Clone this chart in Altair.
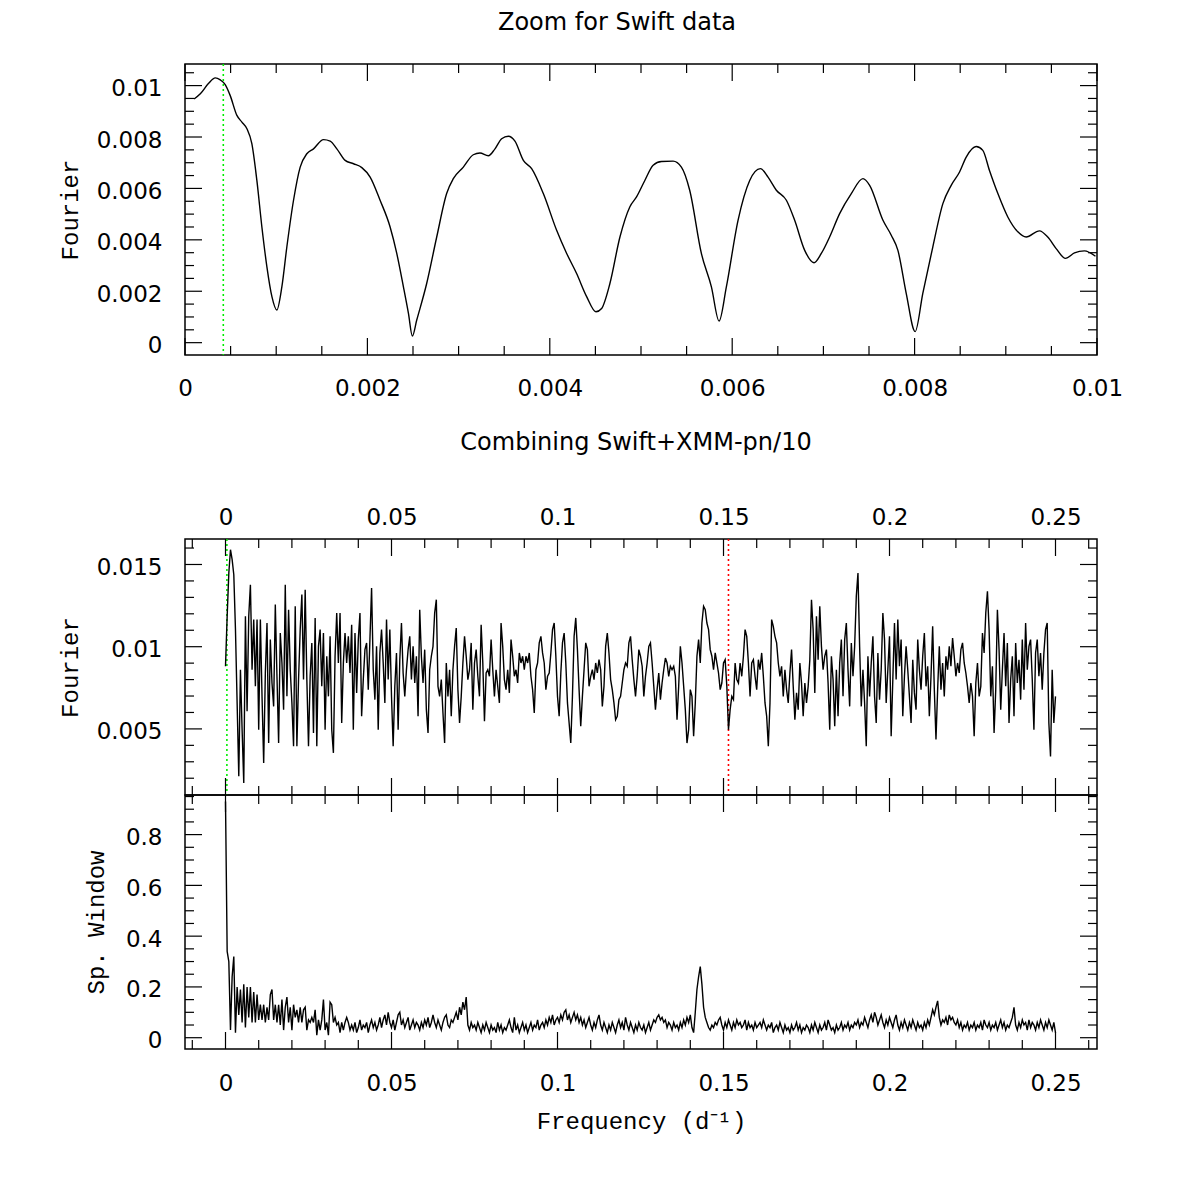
import altair as alt
import pandas as pd

# ---------------- data ----------------
# Top panel: zoom on the Swift periodogram (frequency, amplitude)
top_freq = [0.0001, 0.000168, 0.000259, 0.000332, 0.000387, 0.000441, 0.000496, 0.000569, 0.000624, 0.000679,
            0.000733, 0.000788, 0.000843, 0.000898, 0.000953, 0.001007, 0.001062, 0.001117, 0.00119, 0.001263,
            0.001336, 0.001409, 0.001519, 0.001592, 0.001665, 0.001756, 0.001848, 0.001939, 0.00203, 0.002139,
            0.002249, 0.002322, 0.002395, 0.00245, 0.002493, 0.002541, 0.00265, 0.00276, 0.002869, 0.002942,
            0.003052, 0.003161, 0.003234, 0.003326, 0.003399, 0.003472, 0.003545, 0.003618, 0.00371, 0.003801,
            0.003929, 0.004075, 0.004185, 0.004294, 0.004404, 0.004506, 0.004568, 0.004659, 0.004769,
            0.004877, 0.004951, 0.005042, 0.005133, 0.005224, 0.005352, 0.005443, 0.005534, 0.005662, 0.005772,
            0.005856, 0.005936, 0.006064, 0.006192, 0.006309, 0.006393, 0.006484, 0.006594, 0.006685, 0.006795,
            0.006897, 0.006977, 0.007068, 0.007178, 0.007306, 0.007434, 0.007507, 0.007653, 0.007744, 0.007817,
            0.007908, 0.008006, 0.00809, 0.0082, 0.00831, 0.008401, 0.008493, 0.008566, 0.008675, 0.008748,
            0.008821, 0.008913, 0.009022, 0.009132, 0.009223, 0.009369, 0.00946, 0.009552, 0.009654, 0.009753,
            0.009862, 0.009983]
top_power = [0.00948, 0.00968, 0.01009, 0.0103, 0.01022, 0.01004, 0.00961, 0.00884, 0.00858, 0.00832,
             0.00774, 0.00631, 0.0045, 0.00295, 0.00179, 0.00127, 0.00217, 0.00373, 0.00554, 0.00683,
             0.00735, 0.00754, 0.0079, 0.00784, 0.00754, 0.00709, 0.00696, 0.00681, 0.00644, 0.00554,
             0.0045, 0.00347, 0.00217, 0.00114, 0.00026, 0.00088, 0.0023, 0.00411, 0.0058, 0.00638,
             0.00683, 0.00731, 0.00738, 0.00727, 0.00754, 0.00793, 0.00803, 0.00784, 0.00709, 0.00677,
             0.0058, 0.00437, 0.00347, 0.00269, 0.00179, 0.0012, 0.00133, 0.0023, 0.00411,
             0.00528, 0.00567, 0.00631, 0.0069, 0.00705, 0.00706, 0.00683, 0.00593, 0.00347, 0.00217,
             0.00084, 0.00217, 0.00476, 0.00631, 0.00677, 0.00644, 0.00593, 0.00554, 0.00476, 0.00359,
             0.00311, 0.00347, 0.00411, 0.00502, 0.0058, 0.00638, 0.00612, 0.00476, 0.00418, 0.00359,
             0.00192, 0.00043, 0.00192, 0.00373, 0.00541, 0.00612, 0.00664, 0.00722, 0.00763, 0.00748,
             0.0067, 0.0058, 0.00489, 0.00431, 0.00411, 0.00435, 0.00411, 0.00366, 0.00328, 0.00349,
             0.00357, 0.00336]

# Middle / bottom panels: common frequency grid (d^-1)
freq = [0.0, 0.0005, 0.001, 0.0015, 0.002, 0.0025, 0.003, 0.0035, 0.004, 0.0045,
        0.005, 0.0055, 0.006, 0.0065, 0.007, 0.0075, 0.008, 0.0085, 0.009, 0.0095,
        0.01, 0.0105, 0.011, 0.0115, 0.012, 0.0125, 0.013, 0.0135, 0.014, 0.0145,
        0.015, 0.0155, 0.016, 0.0165, 0.017, 0.0175, 0.018, 0.0185, 0.019, 0.0195,
        0.02, 0.0205, 0.021, 0.0215, 0.022, 0.0225, 0.023, 0.0235, 0.024, 0.0245,
        0.025, 0.0255, 0.026, 0.0265, 0.027, 0.0275, 0.028, 0.0285, 0.029, 0.0295,
        0.03, 0.0305, 0.031, 0.0315, 0.032, 0.0325, 0.033, 0.0335, 0.034, 0.0345,
        0.035, 0.0355, 0.036, 0.0365, 0.037, 0.0375, 0.038, 0.0385, 0.039, 0.0395,
        0.04, 0.0405, 0.041, 0.0415, 0.042, 0.0425, 0.043, 0.0435, 0.044, 0.0445,
        0.045, 0.0455, 0.046, 0.0465, 0.047, 0.0475, 0.048, 0.0485, 0.049, 0.0495,
        0.05, 0.0505, 0.051, 0.0515, 0.052, 0.0525, 0.053, 0.0535, 0.054, 0.0545,
        0.055, 0.0555, 0.056, 0.0565, 0.057, 0.0575, 0.058, 0.0585, 0.059, 0.0595,
        0.06, 0.0605, 0.061, 0.0615, 0.062, 0.0625, 0.063, 0.0635, 0.064, 0.0645,
        0.065, 0.0655, 0.066, 0.0665, 0.067, 0.0675, 0.068, 0.0685, 0.069, 0.0695,
        0.07, 0.0705, 0.071, 0.0715, 0.072, 0.0725, 0.073, 0.0735, 0.074, 0.0745,
        0.075, 0.0755, 0.076, 0.0765, 0.077, 0.0775, 0.078, 0.0785, 0.079, 0.0795,
        0.08, 0.0805, 0.081, 0.0815, 0.082, 0.0825, 0.083, 0.0835, 0.084, 0.0845,
        0.085, 0.0855, 0.086, 0.0865, 0.087, 0.0875, 0.088, 0.0885, 0.089, 0.0895,
        0.09, 0.0905, 0.091, 0.0915, 0.092, 0.0925, 0.093, 0.0935, 0.094, 0.0945,
        0.095, 0.0955, 0.096, 0.0965, 0.097, 0.0975, 0.098, 0.0985, 0.099, 0.0995,
        0.1, 0.1005, 0.101, 0.1015, 0.102, 0.1025, 0.103, 0.1035, 0.104, 0.1045,
        0.105, 0.1055, 0.106, 0.1065, 0.107, 0.1075, 0.108, 0.1085, 0.109, 0.1095,
        0.11, 0.1105, 0.111, 0.1115, 0.112, 0.1125, 0.113, 0.1135, 0.114, 0.1145,
        0.115, 0.1155, 0.116, 0.1165, 0.117, 0.1175, 0.118, 0.1185, 0.119, 0.1195,
        0.12, 0.1205, 0.121, 0.1215, 0.122, 0.1225, 0.123, 0.1235, 0.124, 0.1245,
        0.125, 0.1255, 0.126, 0.1265, 0.127, 0.1275, 0.128, 0.1285, 0.129, 0.1295,
        0.13, 0.1305, 0.131, 0.1315, 0.132, 0.1325, 0.133, 0.1335, 0.134, 0.1345,
        0.135, 0.1355, 0.136, 0.1365, 0.137, 0.1375, 0.138, 0.1385, 0.139, 0.1395,
        0.14, 0.1405, 0.141, 0.1415, 0.142, 0.1425, 0.143, 0.1435, 0.144, 0.1445,
        0.145, 0.1455, 0.146, 0.1465, 0.147, 0.1475, 0.148, 0.1485, 0.149, 0.1495,
        0.15, 0.1505, 0.151, 0.1515, 0.152, 0.1525, 0.153, 0.1535, 0.154, 0.1545,
        0.155, 0.1555, 0.156, 0.1565, 0.157, 0.1575, 0.158, 0.1585, 0.159, 0.1595,
        0.16, 0.1605, 0.161, 0.1615, 0.162, 0.1625, 0.163, 0.1635, 0.164, 0.1645,
        0.165, 0.1655, 0.166, 0.1665, 0.167, 0.1675, 0.168, 0.1685, 0.169, 0.1695,
        0.17, 0.1705, 0.171, 0.1715, 0.172, 0.1725, 0.173, 0.1735, 0.174, 0.1745,
        0.175, 0.1755, 0.176, 0.1765, 0.177, 0.1775, 0.178, 0.1785, 0.179, 0.1795,
        0.18, 0.1805, 0.181, 0.1815, 0.182, 0.1825, 0.183, 0.1835, 0.184, 0.1845,
        0.185, 0.1855, 0.186, 0.1865, 0.187, 0.1875, 0.188, 0.1885, 0.189, 0.1895,
        0.19, 0.1905, 0.191, 0.1915, 0.192, 0.1925, 0.193, 0.1935, 0.194, 0.1945,
        0.195, 0.1955, 0.196, 0.1965, 0.197, 0.1975, 0.198, 0.1985, 0.199, 0.1995,
        0.2, 0.2005, 0.201, 0.2015, 0.202, 0.2025, 0.203, 0.2035, 0.204, 0.2045,
        0.205, 0.2055, 0.206, 0.2065, 0.207, 0.2075, 0.208, 0.2085, 0.209, 0.2095,
        0.21, 0.2105, 0.211, 0.2115, 0.212, 0.2125, 0.213, 0.2135, 0.214, 0.2145,
        0.215, 0.2155, 0.216, 0.2165, 0.217, 0.2175, 0.218, 0.2185, 0.219, 0.2195,
        0.22, 0.2205, 0.221, 0.2215, 0.222, 0.2225, 0.223, 0.2235, 0.224, 0.2245,
        0.225, 0.2255, 0.226, 0.2265, 0.227, 0.2275, 0.228, 0.2285, 0.229, 0.2295,
        0.23, 0.2305, 0.231, 0.2315, 0.232, 0.2325, 0.233, 0.2335, 0.234, 0.2345,
        0.235, 0.2355, 0.236, 0.2365, 0.237, 0.2375, 0.238, 0.2385, 0.239, 0.2395,
        0.24, 0.2405, 0.241, 0.2415, 0.242, 0.2425, 0.243, 0.2435, 0.244, 0.2445,
        0.245, 0.2455, 0.246, 0.2465, 0.247, 0.2475, 0.248, 0.2485, 0.249, 0.2495,
        0.25]

# Fourier amplitude, Swift + XMM-pn/10
fourier = [0.00881, 0.01185, 0.01448, 0.0159, 0.0153, 0.01438, 0.01104, 0.00658, 0.00212, 0.0086,
           0.00495, 0.00171, 0.01185, 0.00607, 0.01185, 0.01377, 0.0086, 0.01165, 0.00759, 0.01165,
           0.00495, 0.01165, 0.00698, 0.00293, 0.0084, 0.01144, 0.00414, 0.01043, 0.00779, 0.00637,
           0.01256, 0.0082, 0.00414, 0.01083, 0.00901, 0.00617, 0.01377, 0.00698, 0.01225, 0.0086,
           0.00658, 0.00394, 0.01246, 0.00394, 0.008, 0.01104, 0.01317, 0.008, 0.01347, 0.008,
           0.00394, 0.0082, 0.01023, 0.00475, 0.01175, 0.00394, 0.01002, 0.01104, 0.00759, 0.01083,
           0.00495, 0.00942, 0.00698, 0.01063, 0.00495, 0.00354, 0.00942, 0.01205, 0.00901, 0.01205,
           0.00536, 0.00901, 0.01083, 0.00901, 0.01063, 0.0084, 0.01134, 0.00495, 0.01083, 0.00719,
           0.01043, 0.01205, 0.00577, 0.008, 0.00982, 0.01023, 0.00739, 0.01043, 0.01357, 0.0086,
           0.00678, 0.01002, 0.00495, 0.00962, 0.01104, 0.00901, 0.00658, 0.01165, 0.008, 0.01104,
           0.00698, 0.00394, 0.00759, 0.00962, 0.00495, 0.00921, 0.01144, 0.0084, 0.00698, 0.0086,
           0.00982, 0.01063, 0.008, 0.01002, 0.00779, 0.00942, 0.00577, 0.01225, 0.00942, 0.00779,
           0.00982, 0.00617, 0.00475, 0.0086, 0.00942, 0.01002, 0.01205, 0.01286, 0.00759, 0.00698,
           0.008, 0.00597, 0.00414, 0.00901, 0.00698, 0.0086, 0.00577, 0.0086, 0.01002, 0.01114,
           0.00739, 0.00536, 0.00698, 0.00901, 0.01063, 0.00942, 0.008, 0.0086, 0.01023, 0.00617,
           0.00901, 0.00982, 0.0082, 0.00698, 0.01134, 0.00901, 0.00546, 0.0084, 0.0086, 0.0082,
           0.01043, 0.0086, 0.00698, 0.0086, 0.00759, 0.00658,
           0.01144, 0.01002, 0.008, 0.00739, 0.0086, 0.00719, 0.01043, 0.00942, 0.0082, 0.0086,
           0.00779, 0.00962, 0.00901, 0.00942, 0.0086, 0.00942, 0.00901, 0.00962, 0.0082, 0.00739,
           0.00597, 0.0086, 0.00901, 0.01023, 0.01063, 0.00962, 0.00901, 0.00739, 0.0082, 0.0084,
           0.00962, 0.01104, 0.01144, 0.00942, 0.00698, 0.00577, 0.0084, 0.01023, 0.01083, 0.00901,
           0.00658, 0.00536, 0.00414, 0.00698, 0.01063, 0.01175, 0.00982, 0.00739, 0.00516, 0.00698,
           0.0086, 0.01023, 0.00982, 0.00759, 0.0082, 0.0086, 0.008, 0.00901, 0.0084, 0.00921,
           0.0086, 0.00637, 0.00759, 0.01002, 0.01083, 0.00962, 0.008, 0.00739, 0.00658, 0.00556,
           0.00577, 0.00678, 0.00698, 0.00779, 0.0086, 0.00901, 0.00881, 0.01023, 0.01063, 0.00921,
           0.008, 0.00698, 0.0082, 0.00982, 0.00942, 0.00881, 0.00698, 0.0082, 0.00901, 0.01002,
           0.01023, 0.00901, 0.00759, 0.00617, 0.00739, 0.0084, 0.00678, 0.00779, 0.0086, 0.00931,
           0.00901, 0.0082, 0.00881, 0.0086, 0.00881, 0.0082, 0.00556, 0.00759, 0.01002, 0.00901,
           0.00759, 0.00617, 0.00414, 0.00495, 0.00739, 0.00698, 0.00455, 0.00658, 0.00942, 0.01043,
           0.00901, 0.01144, 0.01246, 0.01225, 0.01144, 0.01104, 0.00982, 0.00942, 0.0086, 0.00962,
           0.00901, 0.0084, 0.00739, 0.00779, 0.00901, 0.00921, 0.00759, 0.00495, 0.00617, 0.00698,
           0.00678, 0.00901, 0.008, 0.00779, 0.00901, 0.0082, 0.00942, 0.01104, 0.01063, 0.00901,
           0.00698, 0.00901, 0.00921, 0.0082, 0.00739, 0.00921, 0.0086, 0.00962, 0.0082, 0.00658,
           0.00577, 0.00394, 0.00658, 0.01165, 0.01124, 0.01063, 0.01023, 0.00901, 0.0082, 0.00881,
           0.00698, 0.0086, 0.00739, 0.00658, 0.0084, 0.00982, 0.00759, 0.00556, 0.00719, 0.00617,
           0.00901, 0.00779, 0.00577, 0.00779, 0.00658,
           0.00759, 0.00921, 0.01286, 0.01104, 0.00719, 0.01185, 0.00921, 0.01246, 0.01002, 0.0086,
           0.00942, 0.00982, 0.00779, 0.00495, 0.00942, 0.008, 0.00516, 0.0086, 0.00577, 0.00901,
           0.01043, 0.00698, 0.01043, 0.01144, 0.0086, 0.00637, 0.01023, 0.0082, 0.01002, 0.01307,
           0.01448, 0.01002, 0.00637, 0.0086, 0.00658, 0.00394, 0.00942, 0.00698, 0.00901, 0.01063,
           0.00698, 0.00536, 0.00962, 0.00678, 0.0086, 0.01205, 0.01043, 0.00658, 0.0086, 0.01063,
           0.00455, 0.008, 0.01144, 0.008, 0.01165, 0.00881, 0.01043, 0.00577, 0.0082, 0.01002,
           0.0086, 0.00698, 0.00536, 0.00921, 0.00719, 0.00617, 0.01043, 0.0086, 0.00739, 0.00942,
           0.01083, 0.00759, 0.00881, 0.00577, 0.0082, 0.01124, 0.00739, 0.00435, 0.00739, 0.01002,
           0.00739, 0.00901, 0.00698, 0.00942, 0.0086, 0.01002, 0.00881, 0.01053, 0.00942, 0.0082,
           0.00901, 0.0084, 0.00982, 0.01023, 0.00901, 0.0084, 0.00759, 0.00658, 0.00779, 0.00698,
           0.00455, 0.00779, 0.00901, 0.00698, 0.00759, 0.01083, 0.00962, 0.01205, 0.01337, 0.01104,
           0.00698, 0.00881, 0.00475, 0.00739, 0.01225, 0.00982, 0.00617, 0.0086, 0.01083, 0.00759,
           0.01023, 0.00536, 0.008, 0.00942, 0.00577, 0.01023, 0.00779, 0.00921, 0.00678, 0.01043,
           0.00739, 0.01144, 0.0086, 0.01002, 0.01043, 0.008, 0.00495, 0.00962, 0.01043, 0.0082,
           0.00962, 0.00739, 0.00962, 0.01104, 0.01144, 0.00536, 0.00333, 0.0086, 0.00536, 0.00698]

# Spectral window
window = [0.93, 0.34, 0.30, 0.03, 0.24, 0.32, 0.02, 0.20, 0.09, 0.19,
          0.06, 0.21, 0.04, 0.20, 0.08, 0.20, 0.06, 0.18, 0.06, 0.17,
          0.07, 0.13, 0.07, 0.13, 0.06, 0.12, 0.07, 0.17, 0.19, 0.07,
          0.13, 0.06, 0.13, 0.05, 0.15, 0.03, 0.12, 0.16, 0.06, 0.12,
          0.03, 0.13, 0.08, 0.11, 0.06, 0.12, 0.06, 0.11, 0.12, 0.03,
          0.07, 0.06, 0.08, 0.06, 0.11, 0.01, 0.07, 0.03, 0.07, 0.15,
          0.03, 0.06, 0.01, 0.14, 0.13, 0.06, 0.08, 0.05, 0.06, 0.02,
          0.06, 0.03, 0.06, 0.08, 0.06, 0.03,
          0.05, 0.03, 0.06, 0.02, 0.04, 0.07, 0.03, 0.05, 0.04, 0.06, 0.02, 0.05, 0.07, 0.04, 0.06, 0.03, 0.05, 0.08, 0.04, 0.07, 0.09, 0.05, 0.10, 0.06, 0.04,
          0.07, 0.03, 0.06, 0.09, 0.10, 0.05, 0.07, 0.04, 0.06, 0.08, 0.03, 0.05, 0.07, 0.04, 0.06, 0.05, 0.03, 0.06, 0.04, 0.07, 0.05, 0.08, 0.04, 0.06, 0.09,
          0.06, 0.04, 0.07, 0.05, 0.03, 0.06, 0.08, 0.09, 0.05, 0.04, 0.07, 0.06, 0.08, 0.10, 0.07, 0.12, 0.09, 0.14, 0.11, 0.16, 0.05, 0.03, 0.06, 0.04, 0.05,
          0.03, 0.06, 0.04, 0.02, 0.05, 0.03, 0.06, 0.04, 0.02, 0.05, 0.03, 0.04, 0.02, 0.06, 0.03, 0.05, 0.02, 0.04, 0.03, 0.05, 0.07, 0.04, 0.02, 0.08, 0.03,
          0.05, 0.02, 0.04, 0.06, 0.03, 0.05, 0.02, 0.04, 0.06, 0.03, 0.05, 0.04, 0.07, 0.03, 0.05, 0.06, 0.04, 0.07, 0.05, 0.08, 0.06, 0.09, 0.05, 0.07, 0.08,
          0.06, 0.09, 0.07, 0.10, 0.11, 0.07, 0.09, 0.06, 0.08, 0.10, 0.07, 0.09, 0.06, 0.08, 0.05, 0.07, 0.04, 0.06, 0.08, 0.05, 0.03, 0.06, 0.04, 0.07, 0.09,
          0.05, 0.03, 0.06, 0.04, 0.02, 0.05, 0.03, 0.06, 0.04, 0.02, 0.05, 0.07, 0.04, 0.06, 0.03, 0.08, 0.05, 0.03, 0.06, 0.04, 0.02, 0.05, 0.03, 0.06, 0.04,
          0.03, 0.05, 0.02, 0.04, 0.06, 0.03, 0.05, 0.07, 0.06, 0.08, 0.09, 0.07, 0.08, 0.06, 0.07, 0.04, 0.06, 0.05, 0.03, 0.06, 0.04, 0.05, 0.03, 0.06, 0.04,
          0.07, 0.05, 0.08, 0.06, 0.09, 0.04, 0.02, 0.10, 0.19, 0.24, 0.28, 0.21, 0.12, 0.08, 0.06, 0.04, 0.03, 0.05, 0.04, 0.06, 0.05, 0.07, 0.08, 0.05, 0.03,
          0.06, 0.04, 0.07, 0.05, 0.03, 0.06, 0.04, 0.07, 0.05, 0.06, 0.04, 0.05, 0.07, 0.03, 0.06, 0.04, 0.05, 0.03, 0.06, 0.04, 0.05, 0.06, 0.04, 0.07, 0.05,
          0.03, 0.05, 0.04, 0.06, 0.02, 0.04, 0.05, 0.03, 0.06, 0.04, 0.02, 0.05, 0.03, 0.04, 0.02, 0.05, 0.03, 0.04, 0.06, 0.03, 0.05, 0.02, 0.04, 0.03, 0.05,
          0.04, 0.02, 0.05, 0.03, 0.06, 0.04, 0.02, 0.05, 0.03, 0.04, 0.06, 0.03, 0.07, 0.05, 0.03, 0.04, 0.02, 0.05, 0.03, 0.04, 0.06, 0.03, 0.05, 0.04, 0.06,
          0.03, 0.05, 0.04, 0.06, 0.05, 0.07, 0.04, 0.06, 0.05, 0.08, 0.06, 0.04, 0.07, 0.09, 0.06, 0.10, 0.08, 0.05, 0.07, 0.09, 0.06, 0.04, 0.07, 0.05, 0.08,
          0.06, 0.04, 0.07, 0.09, 0.05, 0.03, 0.06, 0.04, 0.07, 0.05, 0.03, 0.06, 0.04, 0.07, 0.05, 0.03, 0.06, 0.04, 0.05, 0.03, 0.06, 0.04, 0.07, 0.05, 0.08,
          0.11, 0.09, 0.12, 0.145, 0.08, 0.05, 0.07, 0.06, 0.08, 0.05, 0.09, 0.07, 0.08, 0.06, 0.05, 0.07, 0.04, 0.06, 0.03, 0.05, 0.04, 0.06, 0.03, 0.05, 0.04,
          0.06, 0.03, 0.05, 0.04, 0.06, 0.03, 0.07, 0.05, 0.04, 0.06, 0.03, 0.05, 0.04, 0.06, 0.03, 0.05, 0.07, 0.04, 0.06, 0.03, 0.05, 0.04, 0.06, 0.08, 0.12,
          0.05, 0.03, 0.06, 0.04, 0.07, 0.05, 0.06, 0.03, 0.07, 0.04, 0.06, 0.05, 0.03, 0.06, 0.04, 0.07, 0.05, 0.03, 0.06, 0.04, 0.07, 0.05, 0.03, 0.06, 0.02]

green_freq = [0.00042]   # marked frequency (green dotted)
red_freq = [0.1515]      # marked frequency (red dotted)

# tick values
top_x_major = [0, 0.002, 0.004, 0.006, 0.008, 0.01]
top_x_minor = [0.0005, 0.001, 0.0015, 0.0025, 0.003, 0.0035, 0.0045, 0.005, 0.0055,
               0.0065, 0.007, 0.0075, 0.0085, 0.009, 0.0095]
top_y_major = [0, 0.002, 0.004, 0.006, 0.008, 0.01]
top_y_minor = [0.0005, 0.001, 0.0015, 0.0025, 0.003, 0.0035, 0.0045, 0.005, 0.0055,
               0.0065, 0.007, 0.0075, 0.0085, 0.009, 0.0095, 0.0105]
fr_major = [0, 0.05, 0.1, 0.15, 0.2, 0.25]
fr_minor = [-0.01, 0.01, 0.02, 0.03, 0.04, 0.06, 0.07, 0.08, 0.09, 0.11, 0.12, 0.13, 0.14,
            0.16, 0.17, 0.18, 0.19, 0.21, 0.22, 0.23, 0.24, 0.26]
mid_y_major = [0.005, 0.01, 0.015]
mid_y_minor = [0.002, 0.003, 0.004, 0.006, 0.007, 0.008, 0.009, 0.011, 0.012, 0.013, 0.014, 0.016]
bot_y_major = [0, 0.2, 0.4, 0.6, 0.8]
bot_y_minor = [0.05, 0.1, 0.15, 0.25, 0.3, 0.35, 0.45, 0.5, 0.55, 0.65, 0.7, 0.75, 0.85, 0.9, 0.95]

# ---------------- layout ----------------
W = 912
H_TOP, H_MID, H_BOT = 291, 256, 254
MAJ, MIN = 17, 9
LW = 1.4
LABEL_FONT = "DejaVu Sans"
TITLE_FONT = "Liberation Mono"

n = min(len(freq), len(fourier), len(window))
df_main = pd.DataFrame({"f": freq[:n], "fourier": fourier[:n], "window": window[:n]})
m = min(len(top_freq), len(top_power))
df_top = pd.DataFrame({"f": top_freq[:m], "p": top_power[:m]})


def tick_layers(xs, ys, xax, yax, xmaj, xmin, ymaj, ymin, H):
    layers = []
    for vals, ln in ((xmaj, MAJ), (xmin, MIN)):
        d = pd.DataFrame({"t": vals})
        base = alt.Chart(d).mark_rule(color="black", strokeWidth=1.2)
        layers.append(base.encode(x=alt.X("t:Q", scale=xs, axis=xax),
                                  y=alt.value(H), y2=alt.value(H - ln)))
        layers.append(base.encode(x=alt.X("t:Q", scale=xs, axis=xax),
                                  y=alt.value(0), y2=alt.value(ln)))
    for vals, ln in ((ymaj, MAJ), (ymin, MIN)):
        d = pd.DataFrame({"t": vals})
        base = alt.Chart(d).mark_rule(color="black", strokeWidth=1.2)
        layers.append(base.encode(y=alt.Y("t:Q", scale=ys, axis=yax),
                                  x=alt.value(0), x2=alt.value(ln)))
        layers.append(base.encode(y=alt.Y("t:Q", scale=ys, axis=yax),
                                  x=alt.value(W), x2=alt.value(W - ln)))
    return layers


def vline(vals, xs, xax, color):
    return alt.Chart(pd.DataFrame({"v": vals})).mark_rule(
        color=color, strokeDash=[2, 3], strokeWidth=1.6
    ).encode(x=alt.X("v:Q", scale=xs, axis=xax))


# ---- top panel ----
xs_top = alt.Scale(domain=[0, 0.01], nice=False, zero=False)
ys_top = alt.Scale(domain=[-0.00048, 0.01084], nice=False, zero=False)
xax_top = alt.Axis(values=top_x_major, format="~g", title=None, labelPadding=22,
                   labelFlush=False, labelOverlap=False)
yax_top = alt.Axis(values=top_y_major, format="~g", title="Fourier", labelPadding=23,
                   labelOffset=3, labelOverlap=False, titleX=-115, titleY=H_TOP / 2,
                   titleBaseline="middle")
top_line = alt.Chart(df_top).mark_line(color="black", strokeWidth=LW, interpolate="monotone").encode(
    x=alt.X("f:Q", scale=xs_top, axis=xax_top),
    y=alt.Y("p:Q", scale=ys_top, axis=yax_top),
)
top = alt.layer(
    vline(green_freq, xs_top, xax_top, "#00ee00"),
    top_line,
    *tick_layers(xs_top, ys_top, xax_top, yax_top, top_x_major, top_x_minor,
                 top_y_major, top_y_minor, H_TOP),
).properties(
    width=W, height=H_TOP,
    title=alt.TitleParams("Zoom for Swift data", offset=28, anchor="middle", dx=-24),
)

# ---- middle panel ----
xs_f = alt.Scale(domain=[-0.0122, 0.2625], nice=False, zero=False)
ys_mid = alt.Scale(domain=[0.00098, 0.01655], nice=False, zero=False)
xax_mid = alt.Axis(values=fr_major, format="~g", title=None, orient="top", labelPadding=10,
                   labelFlush=False, labelOverlap=False)
yax_mid = alt.Axis(values=mid_y_major, format="~g", title="Fourier", labelPadding=23,
                   labelOffset=3, labelOverlap=False, titleX=-115, titleY=H_MID / 2,
                   titleBaseline="middle")
mid_line = alt.Chart(df_main).mark_line(color="black", strokeWidth=LW).encode(
    x=alt.X("f:Q", scale=xs_f, axis=xax_mid),
    y=alt.Y("fourier:Q", scale=ys_mid, axis=yax_mid),
)
mid = alt.layer(
    vline(green_freq, xs_f, xax_mid, "#00ee00"),
    vline(red_freq, xs_f, xax_mid, "#ff0000"),
    mid_line,
    *tick_layers(xs_f, ys_mid, xax_mid, yax_mid, fr_major, fr_minor, mid_y_major, mid_y_minor, H_MID),
).properties(
    width=W, height=H_MID,
    title=alt.TitleParams("Combining Swift+XMM-pn/10", offset=51, anchor="middle", dx=-5),
)

# ---- bottom panel ----
ys_bot = alt.Scale(domain=[-0.0445, 0.956], nice=False, zero=False)
xax_bot = alt.Axis(values=fr_major, format="~g", title="Frequency (d\u207b\u00b9)",
                   labelPadding=23, titlePadding=14, labelFlush=False, labelOverlap=False)
yax_bot = alt.Axis(values=bot_y_major, format="~g", title="Sp. Window", labelPadding=23,
                   labelOffset=3, labelOverlap=False, titleX=-89, titleY=H_BOT / 2,
                   titleBaseline="middle")
bot_line = alt.Chart(df_main).mark_line(color="black", strokeWidth=LW).encode(
    x=alt.X("f:Q", scale=xs_f, axis=xax_bot),
    y=alt.Y("window:Q", scale=ys_bot, axis=yax_bot),
)
bot = alt.layer(
    bot_line,
    *tick_layers(xs_f, ys_bot, xax_bot, yax_bot, fr_major, fr_minor, bot_y_major, bot_y_minor, H_BOT),
).properties(width=W, height=H_BOT)

chart = alt.vconcat(
    top,
    alt.vconcat(mid, bot, spacing=0, bounds="flush"),
    spacing=29,
).properties(
    padding={"left": 57, "top": 10, "right": 10, "bottom": 10},
    background="white",
).configure_view(
    stroke="black", strokeWidth=1.5
).configure_axis(
    labelFont=LABEL_FONT, labelFontSize=23, labelColor="black",
    titleFont=TITLE_FONT, titleFontSize=24, titleColor="black", titleFontWeight="normal",
    grid=False, ticks=False, domain=False,
).configure_title(
    font=LABEL_FONT, fontSize=24, fontWeight="normal", color="black"
)

chart.save("out.html", embed_options={"renderer": "svg", "actions": False})
